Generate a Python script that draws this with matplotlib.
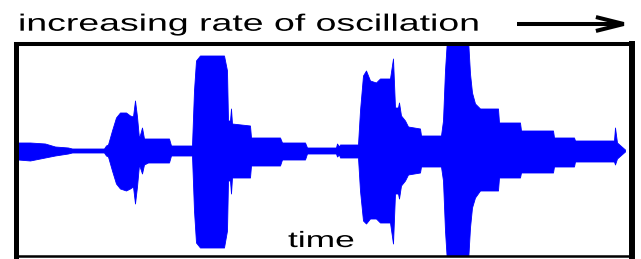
import matplotlib
matplotlib.use("Agg")
import matplotlib.pyplot as plt
from matplotlib.patches import FancyArrowPatch, ArrowStyle
from matplotlib.patheffects import AbstractPathEffect
from matplotlib.transforms import Affine2D

# ---- data: envelope of the recorded oscillation (time, upper, lower amplitude) ----
env_t = [17, 18, 30, 45, 55, 68, 72, 104, 106, 108, 112, 116, 120, 126, 130, 133,
         135, 137, 139, 142, 144, 148, 169, 171, 192, 194, 196, 200, 224, 227, 228,
         230, 231, 232, 250, 251, 280, 282, 305, 307, 336, 337, 339, 340, 358, 360,
         363, 366, 370, 376, 380, 390, 393, 395, 398, 399, 401, 405, 408, 420, 421,
         441, 443, 445, 447, 468, 470, 472, 475, 480, 498, 499, 520, 521, 553, 554,
         574, 575, 614, 615, 617, 625]
env_up = [2, 8, 8, 7, 4, 3, 2, 2, 5, 6, 20, 33, 38, 38, 35, 34,
          50, 34, 12, 23, 12, 12, 12, 5, 5, 60, 90, 95, 95, 80, 30,
          30, 42, 27, 25, 13, 13, 8, 8, 3, 3, 7, 4, 6, 6, 40,
          75, 80, 70, 68, 72, 72, 92, 43, 43, 48, 35, 30, 24, 22, 15,
          15, 30, 80, 112, 112, 77, 58, 47, 42, 42, 28, 28, 20, 20, 13,
          13, 10, 10, 23, 8, 1]
env_lo = [-2, -9, -10, -7, -5, -3, -2, -2, -5, -6, -20, -33, -38, -40, -38, -36,
          -53, -36, -14, -23, -14, -12, -12, -5, -5, -60, -92, -97, -97, -80, -30,
          -30, -43, -27, -27, -15, -15, -9, -9, -3, -3, -6, -4, -7, -7, -40,
          -70, -73, -68, -68, -72, -72, -93, -43, -43, -48, -35, -30, -24, -22, -16,
          -16, -30, -80, -112, -112, -77, -57, -47, -40, -40, -27, -27, -22, -22, -16,
          -16, -11, -11, -14, -8, -1]

title_text = "increasing rate of oscillation"
xlabel_text = "time"

W, H = 641, 259
fig = plt.figure(figsize=(W / 100, H / 100), dpi=100)
fig.patch.set_facecolor("white")

# axes box (edges at the centres of the thick border lines)
left_px, right_px, top_px, bot_px = 15.5, 632, 44, 256
ax = fig.add_axes([left_px / W, (H - bot_px) / H, (right_px - left_px) / W, (bot_px - top_px) / H])
ax.set_xlim(left_px, right_px)
ax.set_ylim(-(bot_px - 150.5), 150.5 - top_px)
ax.set_xticks([])
ax.set_yticks([])
for side, lw in [("left", 3.6), ("right", 4.3), ("top", 2.9), ("bottom", 1.8)]:
    ax.spines[side].set_linewidth(lw)
    ax.spines[side].set_color("black")

ax.fill_between(env_t, env_lo, env_up, color="#0000ff", linewidth=0.6, edgecolor="#0000ff")


class StretchX(AbstractPathEffect):
    def __init__(self, sx, x0):
        super().__init__()
        self.sx = sx
        self.x0 = x0

    def draw_path(self, renderer, gc, tpath, affine, rgbFace=None):
        tr = affine + Affine2D().translate(-self.x0, 0).scale(self.sx, 1).translate(self.x0, 0)
        renderer.draw_path(gc, tpath, tr, rgbFace)


font = "Liberation Sans"
t1_x, t1_base, t1_w = 18, 30.7, 464
t2_x, t2_base, t2_w = 288, 247, 67
t1 = fig.text(t1_x / W, (H - t1_base) / H, title_text, fontsize=17, family=font,
              ha="left", va="baseline", color="black")
t2 = fig.text(t2_x / W, (H - t2_base) / H, xlabel_text, fontsize=16, family=font,
              ha="left", va="baseline", color="black")

fig.canvas.draw()
r = fig.canvas.get_renderer()
for t, x0, wt in [(t1, t1_x, t1_w), (t2, t2_x, t2_w)]:
    ext = t.get_window_extent(r)
    t.set_path_effects([StretchX(wt / ext.width, ext.x0)])

# arrow
arrow = FancyArrowPatch((517 / W, (H - 24) / H), (632 / W, (H - 24) / H),
                        transform=fig.transFigure,
                        arrowstyle=ArrowStyle("->", head_length=20, head_width=5),
                        mutation_scale=1, linewidth=2.9, color="black",
                        shrinkA=0, shrinkB=0, joinstyle="miter", capstyle="butt")
fig.patches.append(arrow)

fig.savefig("out.png", dpi=100, facecolor="white")
